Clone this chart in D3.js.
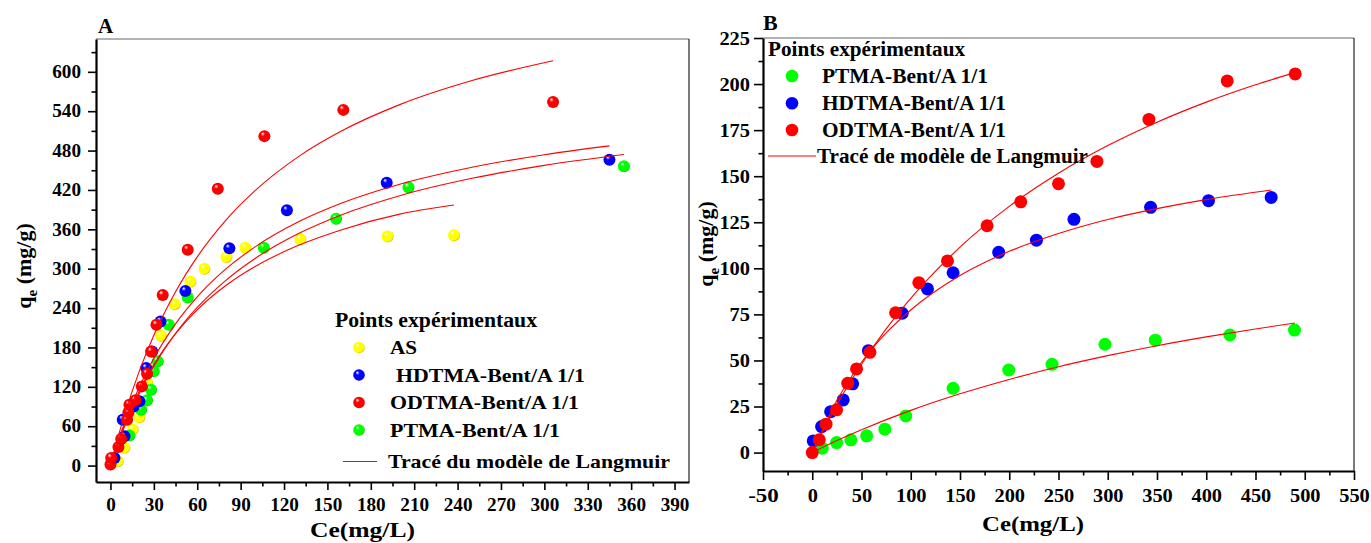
<!DOCTYPE html>
<html>
<head>
<meta charset="utf-8">
<script src="https://cdn.jsdelivr.net/npm/d3@7"></script>
<style>
  body { margin: 0; background: #fff; }
  text { font-family: "Liberation Serif", "Times New Roman", serif; font-weight: bold; }
</style>
</head>
<body>
<div id="chart"></div>
<script>
// ---- Panel A data (Ce mg/L, qe mg/g) ----
var ceAS = [5, 9.7, 15.4, 20, 25.3, 35, 44.4, 55.3, 65, 80.2, 93.3, 131.3, 191.6, 237.5];
var qeAS = [6.5, 27, 55, 73.5, 126, 198, 246, 280, 300, 318, 332, 345, 349, 351];
var ceHD = [2.8, 9.7, 8.5, 16, 20, 24.7, 28.8, 34.6, 51.8, 82.2, 122, 191, 345];
var qeHD = [11.7, 44.6, 70, 90, 98, 148.7, 174, 219.7, 266, 331, 389, 431, 466];
var ceOD = [0, 0.5, 5.5, 7.4, 11.5, 12.4, 13.1, 17.3, 21.7, 25.3, 28.1, 31.8, 36.1, 53.4, 74.2, 106.4, 161, 306];
var qeOD = [1.5, 11.7, 28.5, 40.6, 70, 81, 92.8, 99.4, 120.7, 140, 174, 214.6, 260, 329, 422, 502, 542, 554];
var cePT = [13.1, 21.2, 25.3, 28.1, 29.9, 32.7, 40.3, 53.4, 106, 156, 206, 355];
var qePT = [45.7, 85.2, 99.4, 115.7, 143.6, 158.8, 214.6, 256, 332, 376, 424, 456];

// Langmuir curves
var fitCeA_OD = [0, 5, 10, 20, 30, 45, 60, 80, 100, 130, 160, 200, 250, 306];
var fitQeA_OD = [0, 41.7, 79.3, 144.3, 198.5, 264.9, 318.1, 374.5, 419, 470.8, 510.1, 550, 586.7, 616.8];
var fitCeA_HD = [0, 5, 10, 20, 30, 45, 60, 80, 100, 130, 160, 200, 250, 300, 345];
var fitQeA_HD = [0, 35.3, 66.7, 120, 163.6, 216, 257.1, 300, 333.3, 371.4, 400, 428.6, 454.5, 473.7, 487.1];
var fitCeA_PT = [0, 5, 10, 20, 30, 45, 60, 80, 100, 130, 160, 200, 250, 300, 355];
var fitQeA_PT = [0, 32.1, 60.9, 110.3, 151.3, 201.2, 240.9, 282.7, 315.6, 353.5, 382.3, 411.2, 437.7, 457.4, 473.9];
var fitCeA_AS = [0, 5, 10, 20, 30, 45, 60, 80, 100, 130, 160, 200, 237.5];
var fitQeA_AS = [0, 34, 63.9, 113.8, 153.8, 201, 237.4, 274.7, 303.3, 335.6, 359.5, 383.2, 397];

// ---- Panel B data ----
var cePTb = [10.1, 24.7, 39.2, 55.2, 73.7, 95, 143, 199.5, 243.4, 297.2, 348.3, 424, 489.6];
var qePTb = [2.4, 5.4, 6.9, 9.1, 12.7, 19.9, 34.9, 44.8, 47.9, 58.8, 61, 63.8, 66.5];
var ceHDb = [1, 9.5, 18.7, 31.4, 41, 57, 91.3, 117, 143, 189.3, 227.6, 265.7, 343.5, 402.3, 465.9];
var qeHDb = [6.3, 14.1, 22.2, 28.6, 37.3, 55.3, 75.6, 88.8, 97.6, 108.7, 115.3, 126.6, 133.1, 136.7, 138.5];
var ceODb = [0, 7.1, 14, 24.7, 36, 45, 58.5, 84.6, 108.2, 137.3, 177.5, 211.7, 250, 289, 341.8, 421.3, 490.3];
var qeODb = [0, 6.9, 15.4, 23.2, 37.6, 45.4, 54.4, 75.9, 92.2, 104, 123.1, 136.1, 145.9, 158, 180.8, 201.7, 205.5];

var fitCeB_OD = [0, 25, 50, 75, 100, 150, 200, 250, 300, 350, 400, 450, 490];
var fitQeB_OD = [0, 25.9, 47.9, 67.1, 83.7, 111.5, 133.6, 151.6, 166.6, 179.3, 190.2, 199.6, 206.2];
var fitCeB_HD = [0, 25, 50, 75, 100, 150, 200, 250, 300, 350, 400, 466];
var fitQeB_HD = [0, 28.2, 49, 64.9, 77.4, 96.1, 109.2, 118.9, 126.5, 132.4, 137.3, 142.5];
var fitCeB_PT = [0, 25, 50, 100, 150, 200, 250, 300, 350, 400, 450, 490];
var fitQeB_PT = [0, 6.5, 12.4, 22.9, 31.9, 39.7, 46.6, 52.6, 58, 62.8, 67.1, 70.3];

// tick values
var xTicksA = d3.range(0, 391, 30), xMinorA = d3.range(15, 400, 30);
var yTicksA = d3.range(0, 601, 60), yMinorA = d3.range(30, 650, 60);
var xTicksB = d3.range(-50, 551, 50), xMinorB = d3.range(-25, 550, 50);
var yTicksB = d3.range(0, 226, 25), yMinorB = d3.range(12.5, 225, 25);

var legendA = ["AS", "HDTMA-Bent/A 1/1", "ODTMA-Bent/A 1/1", "PTMA-Bent/A 1/1"];
var legendB = ["PTMA-Bent/A 1/1", "HDTMA-Bent/A 1/1", "ODTMA-Bent/A 1/1"];

var YEL = "#ffff00", BLU = "#0000ff", RED = "#ff0000", GRN = "#00ff00";

var svg = d3.select("#chart").append("svg")
  .attr("width", 1371).attr("height", 543);

// sphere-like gradients for panel A
var defs = svg.append("defs");
[["yel", YEL], ["blu", BLU], ["red", RED], ["grn", GRN]].forEach(function (g) {
  var rg = defs.append("radialGradient").attr("id", "sph-" + g[0])
    .attr("cx", "45%").attr("cy", "45%").attr("r", "60%")
    .attr("fx", "35%").attr("fy", "28%");
  rg.append("stop").attr("offset", "0%").attr("stop-color", "#ffffff");
  rg.append("stop").attr("offset", "30%").attr("stop-color", g[1]);
  rg.append("stop").attr("offset", "80%").attr("stop-color", g[1]);
  rg.append("stop").attr("offset", "100%").attr("stop-color", d3.color(g[1]).darker(1).toString());
});

function zip(a, b) { return a.map(function (v, i) { return [v, b[i]]; }); }
function plain(d) { return String(d); }   // keeps "-50" with a hyphen

function drawAxes(g, x, y, o) {
  var x0 = x.range()[0], x1 = x.range()[1], y0 = y.range()[0], y1 = y.range()[1];
  // frame top / right
  g.append("line").attr("x1", x0).attr("x2", x1).attr("y1", y1).attr("y2", y1)
    .attr("stroke", "#666").attr("stroke-width", 1.2);
  g.append("line").attr("x1", x1).attr("x2", x1).attr("y1", y1).attr("y2", y0)
    .attr("stroke", "#222").attr("stroke-width", 1.2);

  var xm = g.append("g").attr("transform", "translate(0," + y0 + ")")
    .call(d3.axisBottom(x).tickValues(o.xMinor).tickFormat("").tickSize(4.5).tickSizeOuter(0));
  xm.select(".domain").remove();
  var ym = g.append("g").attr("transform", "translate(" + x0 + ",0)")
    .call(d3.axisLeft(y).tickValues(o.yMinor).tickFormat("").tickSize(4.5).tickSizeOuter(0));
  ym.select(".domain").remove();

  var xa = g.append("g").attr("transform", "translate(0," + y0 + ")")
    .call(d3.axisBottom(x).tickValues(o.xTicks).tickFormat(plain).tickSize(o.tick).tickPadding(o.xPad).tickSizeOuter(0));
  var ya = g.append("g").attr("transform", "translate(" + x0 + ",0)")
    .call(d3.axisLeft(y).tickValues(o.yTicks).tickFormat(plain).tickSize(o.tick).tickPadding(o.yPad).tickSizeOuter(0));

  [xa, ya, xm, ym].forEach(function (a) {
    a.selectAll(".tick line").attr("stroke", "#000").attr("stroke-width", 1.6);
    a.selectAll("text").attr("fill", "#000")
      .style("font-family", '"Liberation Serif", serif').style("font-weight", "bold")
      .style("font-size", o.fs + "px");
  });
  // the original tick digits are a little wider than Liberation Serif's
  [xa, ya].forEach(function (a) {
    a.selectAll(".tick text").each(function () {
      var s = d3.select(this).text();
      d3.select(this).attr("textLength", s.length * o.cw).attr("lengthAdjust", "spacingAndGlyphs");
    });
  });
  xa.select(".domain").attr("stroke", "#000").attr("stroke-width", 2.2);
  ya.select(".domain").attr("stroke", "#000").attr("stroke-width", 2.2);
}

function drawCurve(g, x, y, ce, qe) {
  g.append("path").datum(zip(ce, qe))
    .attr("fill", "none").attr("stroke", RED).attr("stroke-width", 1.1)
    .attr("d", d3.line().x(function (d) { return x(d[0]); }).y(function (d) { return y(d[1]); })
      .curve(d3.curveMonotoneX));
}

function drawPoints(g, x, y, ce, qe, fill, r) {
  g.append("g").selectAll("circle").data(zip(ce, qe)).join("circle")
    .attr("cx", function (d) { return x(d[0]); })
    .attr("cy", function (d) { return y(d[1]); })
    .attr("r", r).attr("fill", fill);
}

function yLabel(g, xPos, yPos) {
  var t = g.append("text").attr("transform", "translate(" + xPos + "," + yPos + ") rotate(-90)")
    .attr("text-anchor", "middle").style("font-size", "22px");
  t.append("tspan").text("q");
  t.append("tspan").attr("dy", 6).style("font-size", "15px").text("e");
  t.append("tspan").attr("dy", -6).text(" (mg/g)");
}

// ================= Panel A =================
var xA = d3.scaleLinear().domain([-10, 400]).range([96, 689]);
var yA = d3.scaleLinear().domain([-25, 650]).range([482, 39]);
var gA = svg.append("g");

drawAxes(gA, xA, yA, { xTicks: xTicksA, xMinor: xMinorA, yTicks: yTicksA, yMinor: yMinorA,
  tick: 8, xPad: 8, yPad: 7, fs: 18, cw: 9.6 });

drawPoints(gA, xA, yA, ceAS, qeAS, "url(#sph-yel)", 6);
drawPoints(gA, xA, yA, cePT, qePT, "url(#sph-grn)", 6);
drawPoints(gA, xA, yA, ceHD, qeHD, "url(#sph-blu)", 6);
drawPoints(gA, xA, yA, ceOD, qeOD, "url(#sph-red)", 6);

drawCurve(gA, xA, yA, fitCeA_OD, fitQeA_OD);
drawCurve(gA, xA, yA, fitCeA_HD, fitQeA_HD);
drawCurve(gA, xA, yA, fitCeA_PT, fitQeA_PT);
drawCurve(gA, xA, yA, fitCeA_AS, fitQeA_AS);

gA.append("text").attr("x", 98).attr("y", 33).style("font-size", "21px").text("A");
gA.append("text").attr("x", 310).attr("y", 537).attr("textLength", 105)
  .attr("lengthAdjust", "spacingAndGlyphs").style("font-size", "22px").text("Ce(mg/L)");
yLabel(gA, 31, 266);

// legend A
gA.append("text").attr("x", 335).attr("y", 327).attr("textLength", 202)
  .attr("lengthAdjust", "spacingAndGlyphs").style("font-size", "20px").text("Points expérimentaux");
var legAfill = ["url(#sph-yel)", "url(#sph-blu)", "url(#sph-red)", "url(#sph-grn)"];
var legAy = [347.5, 375, 402.5, 430];
var legAx = [390, 396, 390, 390];
var legAw = [27, 189, 189, 170];
legendA.forEach(function (s, i) {
  gA.append("circle").attr("cx", 359).attr("cy", legAy[i]).attr("r", 5.8).attr("fill", legAfill[i]);
  gA.append("text").attr("x", legAx[i]).attr("y", legAy[i] + 6.8).attr("textLength", legAw[i])
    .attr("lengthAdjust", "spacingAndGlyphs").style("font-size", "19px").text(s);
});
gA.append("line").attr("x1", 343).attr("x2", 377).attr("y1", 461.5).attr("y2", 461.5)
  .attr("stroke", RED).attr("stroke-width", 1.1);
gA.append("text").attr("x", 388).attr("y", 467.5).attr("textLength", 282)
  .attr("lengthAdjust", "spacingAndGlyphs").style("font-size", "19px").text("Tracé du modèle de Langmuir");

// ================= Panel B =================
var xB = d3.scaleLinear().domain([-50, 550]).range([763, 1354]);
var yB = d3.scaleLinear().domain([-10, 225]).range([471, 38]);
var gB = svg.append("g");

drawAxes(gB, xB, yB, { xTicks: xTicksB, xMinor: xMinorB, yTicks: yTicksB, yMinor: yMinorB,
  tick: 9, xPad: 9, yPad: 4, fs: 19, cw: 10.2 });

drawPoints(gB, xB, yB, cePTb, qePTb, GRN, 6.5);
drawPoints(gB, xB, yB, ceHDb, qeHDb, BLU, 6.5);
drawPoints(gB, xB, yB, ceODb, qeODb, RED, 6.5);

drawCurve(gB, xB, yB, fitCeB_OD, fitQeB_OD);
drawCurve(gB, xB, yB, fitCeB_HD, fitQeB_HD);
drawCurve(gB, xB, yB, fitCeB_PT, fitQeB_PT);

gB.append("text").attr("x", 763).attr("y", 30).style("font-size", "22px").text("B");
gB.append("text").attr("x", 982).attr("y", 531).attr("textLength", 102)
  .attr("lengthAdjust", "spacingAndGlyphs").style("font-size", "22px").text("Ce(mg/L)");
yLabel(gB, 713, 244);

// legend B
gB.append("text").attr("x", 768).attr("y", 56).attr("textLength", 197)
  .attr("lengthAdjust", "spacingAndGlyphs").style("font-size", "20px").text("Points expérimentaux");
var legBfill = [GRN, BLU, RED];
var legBy = [76, 103.3, 130];
var legBw = [166, 184, 184];
legendB.forEach(function (s, i) {
  gB.append("circle").attr("cx", 792).attr("cy", legBy[i]).attr("r", 6.3).attr("fill", legBfill[i]);
  gB.append("text").attr("x", 822).attr("y", legBy[i] + 7).attr("textLength", legBw[i])
    .attr("lengthAdjust", "spacingAndGlyphs").style("font-size", "20px").text(s);
});
gB.append("line").attr("x1", 768).attr("x2", 816).attr("y1", 156).attr("y2", 156)
  .attr("stroke", RED).attr("stroke-width", 1.1);
gB.append("text").attr("x", 817).attr("y", 163).attr("textLength", 271)
  .attr("lengthAdjust", "spacingAndGlyphs").style("font-size", "20px").text("Tracé de modèle de Langmuir");
</script>
</body>
</html>
